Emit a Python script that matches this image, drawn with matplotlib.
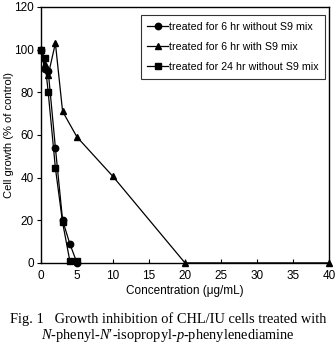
import matplotlib
matplotlib.use("Agg")
import matplotlib.pyplot as plt

conc_a = [0, 0.5, 1, 2, 3, 4, 5]
grow_a = [100, 91, 90, 54, 20, 9, 0]
conc_b = [0, 0.5, 1, 2, 3, 5, 10, 20, 40]
grow_b = [100, 93, 88, 103, 71, 59, 40.5, 0, 0]
conc_c = [0, 0.5, 1, 2, 3, 4, 5]
grow_c = [100, 96, 80, 44.5, 19, 1, 1]
labels = ["treated for 6 hr without S9 mix",
          "treated for 6 hr with S9 mix",
          "treated for 24 hr without S9 mix"]
xticks = [0, 5, 10, 15, 20, 25, 30, 35, 40]
yticks = [0, 20, 40, 60, 80, 100, 120]

plt.rcParams['font.family'] = ['Liberation Sans', 'DejaVu Sans']
plt.rcParams['mathtext.fontset'] = 'custom'
plt.rcParams['mathtext.rm'] = 'Liberation Serif'
plt.rcParams['mathtext.it'] = 'Liberation Serif:italic'
fig = plt.figure(figsize=(3.36, 3.45), dpi=100)
ax = fig.add_axes([0.122, 0.238, 0.857, 0.742])

ax.plot(conc_a, grow_a, '-', color='black', lw=0.9, marker='o', ms=4.6, label=labels[0], clip_on=False, zorder=3)
ax.plot(conc_b, grow_b, '-', color='black', lw=0.9, marker='^', ms=5.0, label=labels[1], clip_on=False, zorder=3)
ax.plot(conc_c, grow_c, '-', color='black', lw=0.9, marker='s', ms=4.6, label=labels[2], clip_on=False, zorder=3)

ax.set_xlim(0, 40)
ax.set_ylim(0, 120)
ax.set_xticks(xticks)
ax.set_yticks(yticks)
ax.tick_params(axis='x', direction='in', length=3, width=0.8, labelsize=8.5, pad=5)
ax.tick_params(axis='y', direction='out', length=3, width=0.8, labelsize=8.5, pad=2)
for s in ax.spines.values():
    s.set_linewidth(1.0)
ax.set_xlabel("Concentration (\u03bcg/mL)", fontsize=8.5, labelpad=2)
ax.set_ylabel("Cell growth (% of control)", fontsize=8)
ax.yaxis.set_label_coords(-0.095, 0.5)

leg = ax.legend(loc='upper right', bbox_to_anchor=(0.986, 0.967), fontsize=7.7, frameon=True,
                fancybox=False, edgecolor='black', handlelength=1.9, handletextpad=0.1,
                borderpad=0.6, labelspacing=0.95, borderaxespad=0)
leg.get_frame().set_linewidth(0.8)

fig.text(0.5, 0.076, "Fig. 1   Growth inhibition of CHL/IU cells treated with",
         ha='center', va='center', fontsize=10.4, family='Liberation Serif')
fig.text(0.5, 0.028, "$\\mathit{N}$-phenyl-$\\mathit{N}$\u2032-isopropyl-$\\mathit{p}$-phenylenediamine",
         ha='center', va='center', fontsize=10.4, family=['Liberation Serif', 'DejaVu Serif'])
fig.savefig("out.png", dpi=100)
